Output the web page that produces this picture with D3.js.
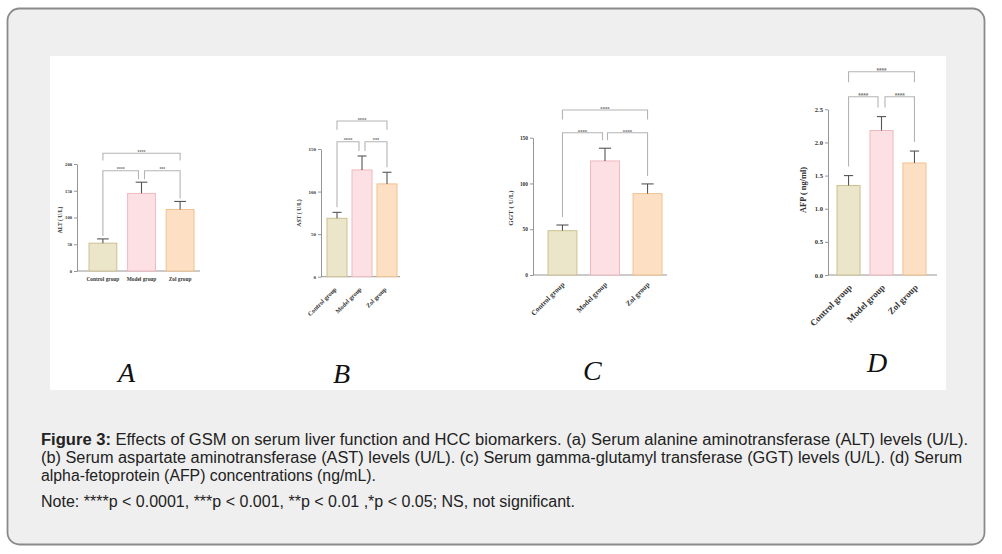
<!DOCTYPE html>
<html><head><meta charset="utf-8">
<script src="https://cdn.jsdelivr.net/npm/d3@7"></script>
<style>html,body{margin:0;padding:0;background:#fff;} svg{display:block;}</style>
</head><body>
<svg id="c" width="1002" height="554"></svg>
<script>
// ---------- data ----------
const categories = ["Control group", "Model group", "Zol group"];
const altMean = [52, 145, 115];
const altErr  = [8, 21, 15];
const astMean = [68.6, 125.4, 109];
const astErr  = [7, 16.4, 13.7];
const ggtMean = [48.4, 124.6, 88.9];
const ggtErr  = [6.2, 13.9, 10.6];
const afpMean = [1.35, 2.18, 1.69];
const afpErr  = [0.15, 0.21, 0.18];
const altTicks = [0, 50, 100, 150, 200];
const astTicks = [0, 50, 100, 150];
const ggtTicks = [0, 50, 100, 150];
const afpTicks = [0, 0.5, 1.0, 1.5, 2.0, 2.5];
const altStars = ["****", "***", "****"];
const astStars = ["****", "***", "****"];
const ggtStars = ["****", "****", "****"];
const afpStars = ["****", "****", "****"];
const yLabels = ["ALT ( U/L)", "AST ( U/L)", "GGT ( U/L)", "AFP ( ng/ml)"];
const panelLetters = ["A", "B", "C", "D"];
const captionLines = [
  "Effects of GSM on serum liver function and HCC biomarkers. (a) Serum alanine aminotransferase (ALT) levels (U/L).",
  "(b) Serum aspartate aminotransferase (AST) levels (U/L). (c) Serum gamma-glutamyl transferase (GGT) levels (U/L). (d) Serum",
  "alpha-fetoprotein (AFP) concentrations (ng/mL).",
  "Note: ****p < 0.0001, ***p < 0.001, **p < 0.01 ,*p < 0.05; NS, not significant."
];

// ---------- layout ----------
const panels = [
  {mean: altMean, err: altErr, ticks: altTicks, yMax: 200, fmt: d3.format("d"),
   x0: 77, xEnd: 200, barL: 89, barR: 194, pad: 0.28, y0: 271, yTop: 164,
   innerY: 170.7, topY: 153.3, stars: altStars, tickFs: 4.6, labFs: 5.4, starFs: 5, rotate: false,
   yLab: [60, 220], yLabFs: 5.6, letter: [118, 382], gap: 3, legGap: 3, capFrac: 0.42},
  {mean: astMean, err: astErr, ticks: astTicks, yMax: 150, fmt: d3.format("d"),
   x0: 321, xEnd: 400, barL: 327, barR: 397, pad: 0.2, y0: 276.7, yTop: 149,
   innerY: 141.7, topY: 121, stars: astStars, tickFs: 5, labFs: 6.2, starFs: 5.6, rotate: true, lab: [0, 13],
   yLab: [299, 213], yLabFs: 5.8, letter: [333, 383], gap: 3, legGap: 5, capFrac: 0.45},
  {mean: ggtMean, err: ggtErr, ticks: ggtTicks, yMax: 150, fmt: d3.format("d"),
   x0: 533, xEnd: 667, barL: 548, barR: 662, pad: 0.32, y0: 275, yTop: 137.7,
   innerY: 132.7, topY: 110, stars: ggtStars, tickFs: 5.4, labFs: 7.2, starFs: 6, rotate: true, lab: [2.5, 10],
   yLab: [511, 208], yLabFs: 7, letter: [583, 380], gap: 2.5, legGap: 8, capFrac: 0.42},
  {mean: afpMean, err: afpErr, ticks: afpTicks, yMax: 2.5, fmt: d3.format(".1f"),
   x0: 828, xEnd: 937, barL: 837, barR: 926, pad: 0.3, y0: 275, yTop: 109.3,
   innerY: 96.7, topY: 71.7, stars: afpStars, tickFs: 6.6, labFs: 9, starFs: 6.5, rotate: true, lab: [4, 13],
   yLab: [803, 190], yLabFs: 8.4, letter: [867, 372], gap: 3.5, legGap: 9, capFrac: 0.4}
];

const fills   = ["#ebe5c9", "#fde0e3", "#fde0c3"];
const strokes = ["#cdc192", "#efb9bf", "#f1c18f"];
const serif = "'Liberation Serif','DejaVu Serif',serif";
const sans = "'Liberation Sans',Arial,sans-serif";

const svg = d3.select("#c");
svg.append("rect").attr("x", 7.5).attr("y", 8.5).attr("width", 977).attr("height", 536)
  .attr("rx", 12).attr("fill", "#efefef").attr("stroke", "#8a8a8a").attr("stroke-width", 1.8);
svg.append("rect").attr("x", 50).attr("y", 56).attr("width", 896).attr("height", 334).attr("fill", "#fff");

panels.forEach((p, pi) => {
  const g = svg.append("g");
  const y = d3.scaleLinear().domain([0, p.yMax]).range([p.y0, p.yTop]);
  const x = d3.scaleBand().domain(categories).range([p.barL, p.barR]).paddingInner(p.pad).paddingOuter(0);
  const bw = x.bandwidth();
  const cx = i => x(categories[i]) + bw / 2;

  // y axis
  const ya = g.append("g").attr("transform", `translate(${p.x0},0)`)
    .call(d3.axisLeft(y).tickValues(p.ticks).tickFormat(p.fmt).tickSize(3).tickSizeOuter(0).tickPadding(2));
  ya.select(".domain").attr("stroke", "#8a8a8a").attr("stroke-width", 0.9);
  ya.selectAll(".tick line").attr("stroke", "#8a8a8a").attr("stroke-width", 0.9);
  ya.selectAll(".tick text").attr("font-family", serif).attr("font-weight", "bold")
    .attr("font-size", p.tickFs).attr("fill", "#333");

  // x axis
  const xa = g.append("g").attr("transform", `translate(0,${p.y0})`)
    .call(d3.axisBottom(x).tickSize(0).tickSizeOuter(0).tickPadding(p.rotate ? 0 : 6));
  xa.select(".domain").remove();
  g.append("line").attr("x1", p.x0).attr("x2", p.xEnd).attr("y1", p.y0).attr("y2", p.y0)
    .attr("stroke", "#8a8a8a").attr("stroke-width", 0.9);
  const xt = xa.selectAll(".tick text").attr("font-family", serif).attr("font-weight", "bold")
    .attr("font-size", p.labFs).attr("fill", "#333");
  if (p.rotate) {
    xt.attr("text-anchor", "end").attr("dy", 0).attr("y", 0)
      .attr("transform", `translate(${p.lab[0]},${p.lab[1]}) rotate(-45)`);
  }

  // bars
  g.selectAll("rect.bar").data(p.mean).join("rect").attr("class", "bar")
    .attr("x", (d, i) => x(categories[i])).attr("width", bw)
    .attr("y", d => y(d)).attr("height", d => p.y0 - y(d))
    .attr("fill", (d, i) => fills[i]).attr("stroke", (d, i) => strokes[i]).attr("stroke-width", 1);

  // error bars (upper)
  p.mean.forEach((m, i) => {
    const c = cx(i), top = y(m + p.err[i]), cw = bw * p.capFrac;
    g.append("line").attr("x1", c).attr("x2", c).attr("y1", y(m)).attr("y2", top)
      .attr("stroke", "#555").attr("stroke-width", 1.1);
    g.append("line").attr("x1", c - cw / 2).attr("x2", c + cw / 2).attr("y1", top).attr("y2", top)
      .attr("stroke", "#555").attr("stroke-width", 1.1);
  });

  // significance brackets
  const errTop = i => y(p.mean[i] + p.err[i]) - p.legGap;
  const br = [
    {xl: cx(0), xr: cx(1) - p.gap, yl: errTop(0), yr: errTop(1), lvl: p.innerY, s: p.stars[0]},
    {xl: cx(1) + p.gap, xr: cx(2), yl: errTop(1), yr: errTop(2), lvl: p.innerY, s: p.stars[1]},
    {xl: cx(0), xr: cx(2), yl: p.topY + (p.innerY - p.topY) * 0.42, yr: p.topY + (p.innerY - p.topY) * 0.42, lvl: p.topY, s: p.stars[2]}
  ];
  br.forEach(b => {
    g.append("path").attr("d", `M${b.xl},${b.yl}V${b.lvl}H${b.xr}V${b.yr}`)
      .attr("fill", "none").attr("stroke", "#b4b4b4").attr("stroke-width", 1.1);
    g.append("text").attr("x", (b.xl + b.xr) / 2).attr("y", b.lvl - 2.5 + p.starFs * 0.55)
      .attr("text-anchor", "middle").attr("font-family", sans).attr("font-weight", "bold")
      .attr("font-size", p.starFs).attr("fill", "#777").text(b.s);
  });

  // y label
  g.append("text").attr("transform", `translate(${p.yLab[0]},${p.yLab[1]}) rotate(-90)`)
    .attr("text-anchor", "middle").attr("dominant-baseline", "central")
    .attr("font-family", serif).attr("font-weight", "bold").attr("font-size", p.yLabFs).attr("fill", "#333")
    .text(yLabels[pi]);

  // panel letter
  g.append("text").attr("x", p.letter[0]).attr("y", p.letter[1])
    .attr("font-family", serif).attr("font-style", "italic").attr("font-size", 28).attr("fill", "#111")
    .text(panelLetters[pi]);
});

// caption
const capY = [444.5, 462.7, 481, 507];
const capW = [927, 921, 335, 534];
capY.forEach((yy, i) => {
  const t = svg.append("text").attr("x", 41).attr("y", yy)
    .attr("font-family", sans).attr("font-size", 16).attr("fill", "#222")
    .attr("textLength", capW[i]).attr("lengthAdjust", "spacingAndGlyphs");
  if (i === 0) {
    t.append("tspan").attr("font-weight", "bold").text("Figure 3:");
    t.append("tspan").text(" " + captionLines[0]);
  } else {
    t.text(captionLines[i]);
  }
});
</script>
</body></html>
